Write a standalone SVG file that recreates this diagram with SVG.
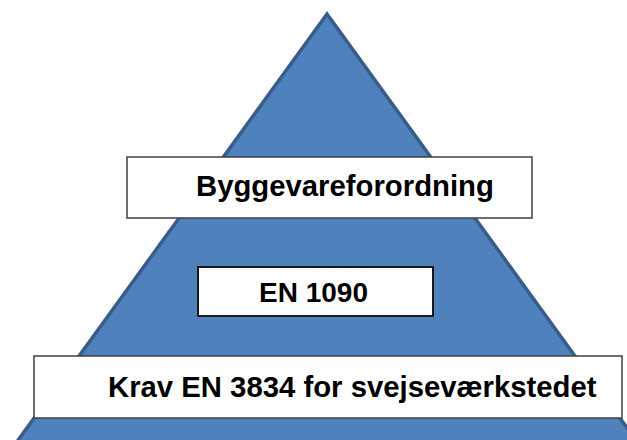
<svg xmlns="http://www.w3.org/2000/svg" width="627" height="440" viewBox="0 0 627 440">
  <style>
    .tri { fill: #4f81bd; stroke: #385d8a; stroke-width: 3.5; stroke-linejoin: miter; }
    .box { fill: #ffffff; stroke: #404040; stroke-width: 1.5; }
    .box-dark { fill: #ffffff; stroke: #1a1a1a; stroke-width: 2; }
    .label { font-family: "Liberation Sans", Arial, sans-serif; font-weight: bold; font-size: 29.3px; fill: #000000; }
  </style>
  <rect x="0" y="0" width="627" height="440" fill="#ffffff"/>
  <g id="pyramid">
    <polygon class="tri" points="327,14 16,443 638,443"/>
  </g>
  <g id="node-byggevareforordning">
    <rect class="box" x="127" y="157" width="405" height="61"/>
    <text class="label" x="196" y="196">Byggevareforordning</text>
  </g>
  <g id="node-en1090">
    <rect class="box-dark" x="198" y="267" width="235" height="49"/>
    <text class="label" x="259" y="302" style="font-size:28px">EN 1090</text>
  </g>
  <g id="node-krav">
    <rect class="box" x="34" y="356" width="588" height="62"/>
    <text class="label" x="108" y="397">Krav EN 3834 for svejseværkstedet</text>
  </g>
</svg>
